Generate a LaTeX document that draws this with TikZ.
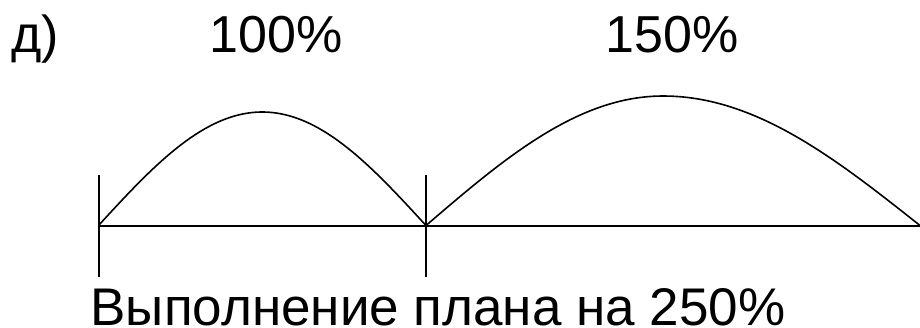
\documentclass[tikz,border=0pt]{standalone}
\usepackage{fontspec}
\setmainfont{Liberation Sans}
\begin{document}
\begin{tikzpicture}[x=1pt,y=-1pt,
  lbl/.style={inner sep=0pt,anchor=base,font=\fontsize{52}{58}\selectfont},
  axis/.style={line width=2pt},
  wave/.style={line width=1.6pt}]
\useasboundingbox (0,0) rectangle (920,327);
% points
\coordinate (a) at (98.5,225.5);
\coordinate (b) at (426,225.5);
\coordinate (c) at (920,225.5);
\coordinate (at) at (98.5,175);
\coordinate (ab) at (98.5,276.5);
\coordinate (bt) at (426,175);
\coordinate (bb) at (426,276.5);
% labels
\node[lbl,anchor=base west] (d) at (11,52) {д)};
\node[lbl] (p100) at (276,52) {100\%};
\node[lbl] (p150) at (672,52) {150\%};
\node[lbl,font=\fontsize{53}{58}\selectfont] (plan) at (438,325) {Выполнение плана на 250\%};
% axis
\draw[axis] (a) -- (c);
\draw[axis] (at) -- (ab);
\draw[axis] (bt) -- (bb);
% waves
\draw[wave] plot[domain=0:180,samples=80] ({98.5+1.81944*\x},{225.5-113.5*sin(\x)});
\draw[wave] plot[domain=0:90,samples=50] ({426+2.63333*\x},{225.5-129.5*sin(\x)})
  -- plot[domain=90:180,samples=50] ({663+2.85556*(\x-90)},{225.5-129.5*sin(\x)});
\end{tikzpicture}
\end{document}
